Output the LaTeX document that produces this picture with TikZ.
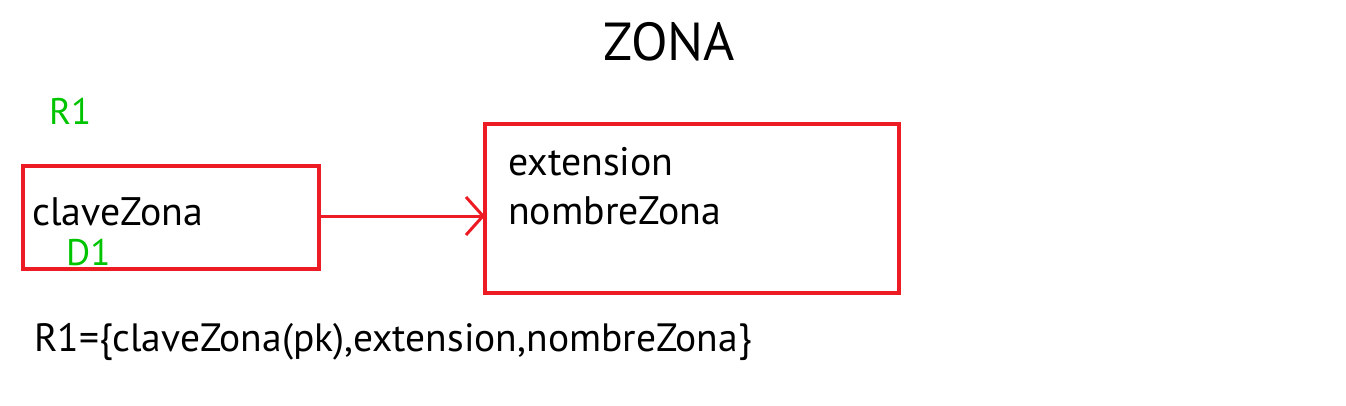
\documentclass[tikz,border=0pt]{standalone}
\usepackage{fontspec}
\setmainfont{PT Sans}
\usetikzlibrary{arrows.meta}
\definecolor{boxred}{RGB}{237,28,36}
\definecolor{lblgreen}{RGB}{0,196,0}
\begin{document}
\begin{tikzpicture}[x=1pt,y=-1pt,
  redbox/.style={draw=boxred,line width=3.2pt},
  txt/.style={inner sep=0pt,anchor=base west,font=\fontsize{39.8}{44}\selectfont},
  grn/.style={txt,text=lblgreen,font=\fontsize{37}{42}\selectfont},
  conn/.style={draw=boxred,line width=3pt,-{Straight Barb[length=17pt,width=38pt,line width=3pt]}}]
\useasboundingbox (0,0) rectangle (1346,405);
\fill[white] (0,0) rectangle (1346,405);
\node[inner sep=0pt,anchor=base,font=\fontsize{53.5}{60}\selectfont] (title) at (669,60) {ZONA};
\node[grn] (r1) at (49,124) {R1};
\draw[redbox] (23,166) rectangle (319,269);
\coordinate (lbE) at (319,216);
\draw[redbox] (485,124) rectangle (899,293);
\coordinate (rbW) at (485,216);
\node[txt] (clave) at (32,225) {claveZona};
\node[grn] (d1) at (66,265) {D1};
\node[txt] (ext) at (508,175) {extension};
\node[txt] (nom) at (508,224) {nombreZona};
\draw[conn] (lbE) -- (rbW);
\node[txt,font=\fontsize{39.5}{44}\selectfont] (rel) at (34,351) {R1=\{claveZona(pk),extension,nombreZona\}};
\end{tikzpicture}
\end{document}
